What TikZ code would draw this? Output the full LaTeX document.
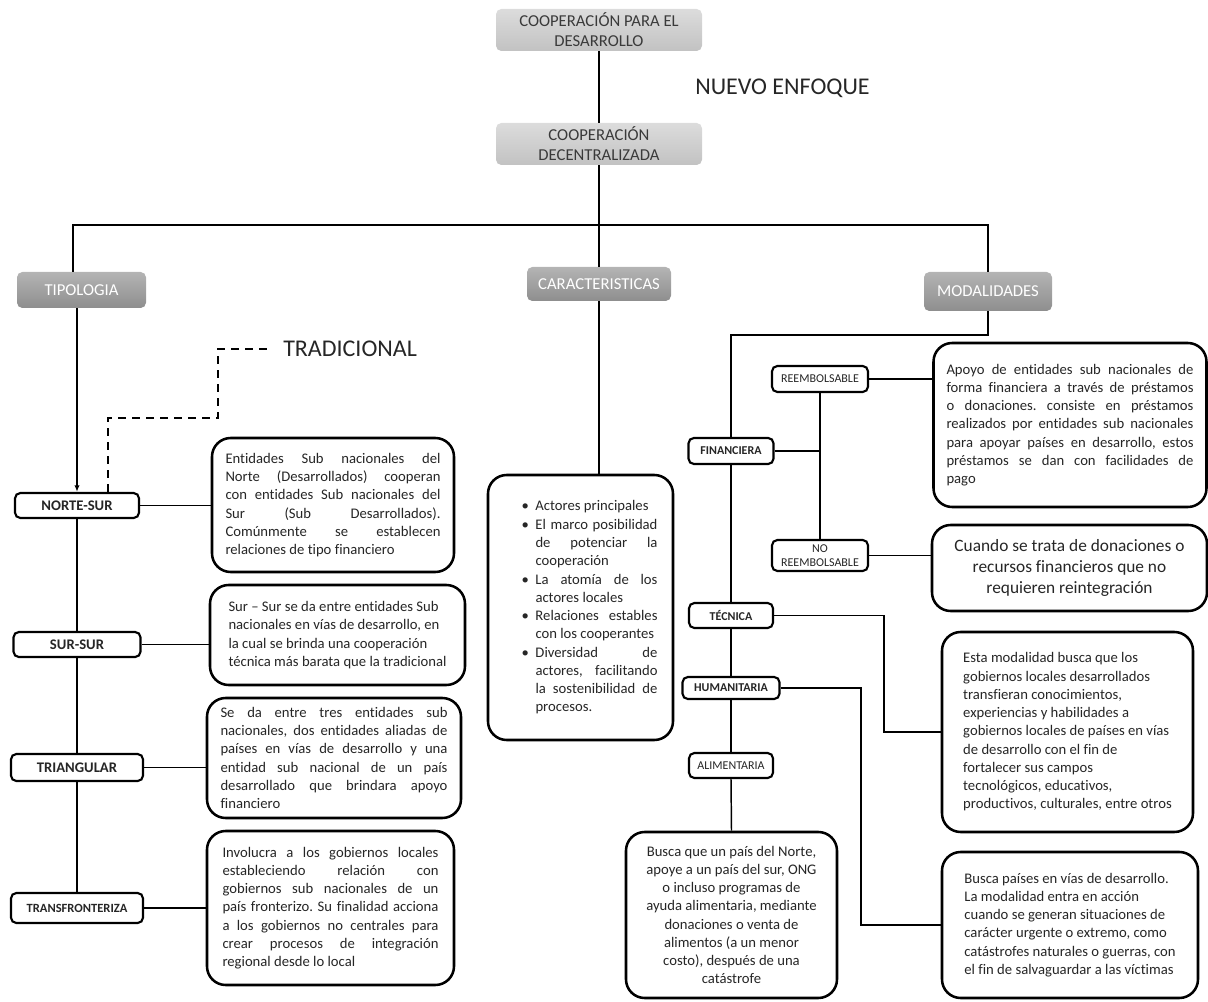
\documentclass[tikz,border=0pt]{standalone}
\usepackage{fontspec}
\setmainfont{Carlito}[Ligatures=NoCommon]
\usetikzlibrary{arrows.meta}
\frenchspacing
\definecolor{txt}{HTML}{262626}
\definecolor{lgTop}{HTML}{DCDCDC}
\definecolor{lgBot}{HTML}{C2C2C2}
\definecolor{lgTxt}{HTML}{3A3A3A}
\definecolor{dkTop}{HTML}{B4B4B4}
\definecolor{dkBot}{HTML}{8E8E8E}
\newcommand\jtext[2]{\parbox{#1}{\frenchspacing\tolerance=10000\hbadness=10000\relax #2}}
\newcommand\bitem{\hangindent=10.5pt\hangafter=1\makebox[10.5pt][l]{\textbullet}}
\tikzset{
  sz/.style 2 args={minimum width=#1*0.75pt,minimum height=#2*0.75pt},
  light/.style={rounded corners=4pt, top color=lgTop, bottom color=lgBot, text=lgTxt, inner sep=0pt, font=\fontsize{12.5}{15}\selectfont, align=center},
  dark/.style={rounded corners=4pt, top color=dkTop, bottom color=dkBot, text=white, inner sep=0pt, font=\fontsize{12.5}{15}\selectfont},
  lab/.style={draw, line width=1.6pt, rounded corners=4pt, fill=white, inner sep=0pt, text=txt, font=\bfseries\fontsize{11}{13}\selectfont},
  labs/.style={lab, font=\bfseries\fontsize{9}{11}\selectfont},
  labn/.style={lab, font=\fontsize{9}{11}\selectfont, align=center},
  tbox/.style={draw, line width=1.9pt, rounded corners=14pt, fill=white, inner sep=0pt, text=txt, font=\fontsize{11}{13.7}\selectfont},
  conn/.style={line width=1.1pt},
  tradline/.style={line width=1.8pt, dash pattern=on 6pt off 4.5pt},
  big/.style={inner sep=0pt, anchor=west, text=txt, font=\fontsize{18}{20}\selectfont},
}
\begin{document}
\begin{tikzpicture}[x=0.75pt,y=-0.75pt]
\useasboundingbox (0,0) rectangle (1208,1002);
% top
\node[light, sz={206}{42}] (cpd) at (599,30) {COOPERACIÓN PARA EL\\DESARROLLO};
\node[light, sz={206}{42}] (cd) at (599,144) {COOPERACIÓN\\DECENTRALIZADA};
\node[big] (nuevo) at (695,88) {NUEVO ENFOQUE};
\node[dark, sz={129}{36}] (tip) at (81.5,290) {TIPOLOGIA};
\node[dark, sz={144}{34}] (car) at (599,284) {CARACTERISTICAS};
\node[dark, sz={128}{39}] (mod) at (988,291.5) {MODALIDADES};
\node[big] (trad) at (283,349) {TRADICIONAL};
% left labels
\node[lab, sz={124}{25}] (ns) at (77,505.5) {NORTE-SUR};
\node[lab, sz={127}{25}] (ss) at (77,644.5) {SUR-SUR};
\node[lab, sz={132}{27}] (tri) at (77,767.5) {TRIANGULAR};
\node[lab, sz={132}{30}, font=\bfseries\fontsize{9.4}{11}\selectfont] (tf) at (77,908) {TRANSFRONTERIZA};
% left text boxes
\node[tbox, sz={242}{134}] (b1) at (333,505) {\jtext{161.25pt}{Entidades Sub nacionales del\linebreak Norte (Desarrollados) cooperan\linebreak con entidades Sub nacionales del\linebreak Sur (Sub Desarrollados).\linebreak Comúnmente se establecen\linebreak relaciones de tipo financiero}};
\node[tbox, sz={255}{100}, align=left] (b2) at (337.5,635) {Sur – Sur se da entre entidades Sub\\nacionales en vías de desarrollo, en\\la cual se brinda una cooperación\\técnica más barata que la tradicional};
\node[tbox, sz={254}{120}] (b3) at (334,758) {\jtext{170.25pt}{Se da entre tres entidades sub\linebreak nacionales, dos entidades aliadas de\linebreak países en vías de desarrollo y una\linebreak entidad sub nacional de un país\linebreak desarrollado que brindara apoyo\linebreak financiero}};
\node[tbox, sz={247}{154}] (b4) at (330.5,908) {\jtext{162pt}{Involucra a los gobiernos locales\linebreak estableciendo relación con\linebreak gobiernos sub nacionales de un\linebreak país fronterizo. Su finalidad acciona\linebreak a los gobiernos no centrales para\linebreak crear procesos de integración\linebreak regional desde lo local}};
% characteristics
\node[tbox, sz={185}{265}] (chars) at (580.5,607.5) {\hspace*{13.5pt}\jtext{102pt}{\bitem Actores principales\par
\bitem El marco posibilidad\linebreak de potenciar la\linebreak cooperación\par
\bitem La atomía de los\linebreak actores locales\par
\bitem Relaciones estables\linebreak con los cooperantes\par
\bitem Diversidad de\linebreak actores, facilitando\linebreak la sostenibilidad de\linebreak procesos.}};
% modalities labels
\node[labs, sz={85}{26}] (fin) at (731,451) {FINANCIERA};
\node[labn, sz={96}{26}] (reem) at (820,379) {REEMBOLSABLE};
\node[labn, sz={96}{31}] (noreem) at (820,555.5) {NO\\REEMBOLSABLE};
\node[labs, sz={84}{25}] (tec) at (731,615.5) {TÉCNICA};
\node[labs, sz={97}{22}] (hum) at (731,688) {HUMANITARIA};
\node[labn, sz={84}{25}] (ali) at (731,765.5) {ALIMENTARIA};
% right text boxes
\node[tbox, sz={273}{164}] (r1) at (1070,425) {\jtext{185.25pt}{Apoyo de entidades sub nacionales de\linebreak forma financiera a través de préstamos\linebreak o donaciones. consiste en préstamos\linebreak realizados por entidades sub nacionales\linebreak para apoyar países en desarrollo, estos\linebreak préstamos se dan con facilidades de\linebreak pago}};
\node[tbox, sz={275}{86}, align=center, font=\fontsize{13}{15.8}\selectfont] (r2) at (1069.5,568) {Cuando se trata de donaciones o\\recursos financieros que no\\requieren reintegración};
\node[tbox, sz={251}{200}, align=left] (r3) at (1067.5,732) {Esta modalidad busca que los\\gobiernos locales desarrollados\\transfieran conocimientos,\\experiencias y habilidades a\\gobiernos locales de países en vías\\de desarrollo con el fin de\\fortalecer sus campos\\tecnológicos, educativos,\\productivos, culturales, entre otros};
\node[tbox, sz={256}{146}, align=left] (r4) at (1070,925) {Busca países en vías de desarrollo.\\La modalidad entra en acción\\cuando se generan situaciones de\\carácter urgente o extremo, como\\catástrofes naturales o guerras, con\\el fin de salvaguardar a las víctimas};
\node[tbox, sz={211}{166}, align=center] (alim) at (731.5,915) {Busca que un país del Norte,\\apoye a un país del sur, ONG\\o incluso programas de\\ayuda alimentaria, mediante\\donaciones o venta de\\alimentos (a un menor\\costo), después de una\\catástrofe};
% connectors
\coordinate (bl) at (73,225);
\coordinate (br) at (988,225);
\coordinate (m1) at (988,335);
\coordinate (m2) at (731,335);
\coordinate (tk) at (884,0);
\coordinate (hk) at (861,0);
\coordinate (d1) at (108,418);
\coordinate (d2) at (218,418);
\coordinate (d3) at (218,349);
\draw[conn] (cpd.south) -- (cd.north);
\draw[conn] (cd.south) -- (car.north);
\draw[conn] (tip.north -| bl) -- (bl) -- (br) -- (mod.north);
\draw[conn] (car.south) -- (car.south |- chars.north);
\draw[conn,-{Latex[length=5pt,width=4pt]}] (tip.south -| ns.north) -- (ns.north);
\draw[conn] (ns.south) -- (ss.north);
\draw[conn] (ss.south) -- (tri.north);
\draw[conn] (tri.south) -- (tf.north);
\draw[conn] (ns.east) -- (ns.east -| b1.west);
\draw[conn] (ss.east) -- (ss.east -| b2.west);
\draw[conn] (tri.east) -- (tri.east -| b3.west);
\draw[conn] (tf.east) -- (tf.east -| b4.west);
\draw[tradline] (ns.north -| d1) -- (d1) -- (d2) -- (d3) -- ([xshift=-8pt]trad.west);
\draw[conn] (mod.south) -- (m1) -- (m2) -- (fin.north);
\draw[conn] (fin.south) -- (tec.north);
\draw[conn] (tec.south) -- (hum.north);
\draw[conn] (hum.south) -- (ali.north);
\draw[conn] (ali.south) -- (alim.north);
\draw[conn] (fin.east) -- (fin.east -| reem.south);
\draw[conn] (reem.south) -- (noreem.north);
\draw[conn] (reem.east) -- (reem.east -| r1.west);
\draw[conn] (noreem.east) -- (noreem.east -| r2.west);
\draw[conn] (tec.east) -- (tec.east -| tk) |- (r3.west);
\draw[conn] (hum.east) -- (hum.east -| hk) |- (r4.west);
\end{tikzpicture}
\end{document}
